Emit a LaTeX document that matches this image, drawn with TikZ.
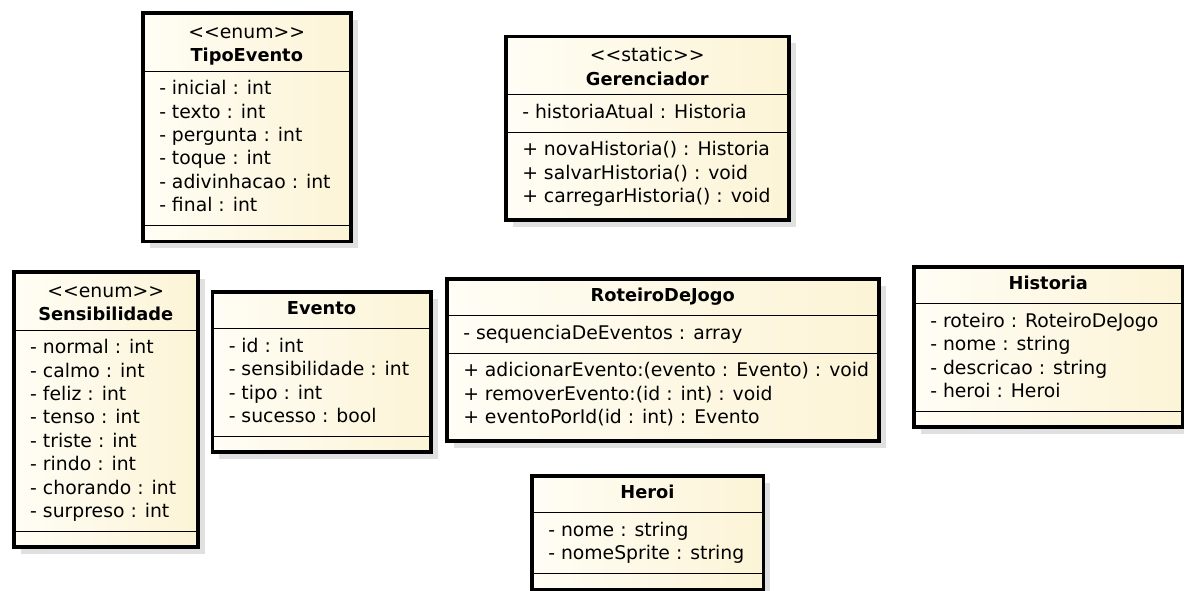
\documentclass[tikz,border=0pt]{standalone}
\usepackage{fontspec}
\setmainfont{DejaVu Sans}
\usepackage{array}
\usetikzlibrary{shadows}

\definecolor{umlpaper}{RGB}{255,253,245}
\definecolor{umlcream}{RGB}{252,244,214}
\definecolor{umlshadow}{RGB}{224,224,224}

\setlength{\tabcolsep}{16.5pt}
\setlength{\arrayrulewidth}{1.2pt}

% compartment paddings
\newcommand{\cpad}{\noalign{\vskip 6.5pt}}
\newcommand{\cpadtop}{\noalign{\vskip 9pt}}
\newcommand{\cpadsmall}{\noalign{\vskip 2pt}}
\newcommand{\cpadlast}{\noalign{\vskip 10.5pt}}
\newcommand{\cend}{\noalign{\vskip 15pt}}
\newcommand{\stereo}[1]{\multicolumn{1}{c}{<\kern0pt<#1>\kern0pt>}}
\newcommand{\cname}[1]{\multicolumn{1}{c}{\fontsize{17.8}{23.4}\selectfont\textbf{#1}}}

\begin{document}
\begin{tikzpicture}[
    x=1pt, y=-1pt,
    every node/.style={font=\fontsize{18.8}{23.4}\selectfont},
    classbox/.style={draw, rectangle, line width=3.5pt, inner sep=0pt, anchor=north west,
        left color=umlpaper, right color=umlcream,
        drop shadow={shadow xshift=7pt, shadow yshift=-7pt, fill=umlshadow, opacity=1}}
]
    \useasboundingbox (0,0) rectangle (1184,590);

    % --------------------------------------------------------
    % 1. ENUMS AND STATIC CLASS
    % --------------------------------------------------------

    % TipoEvento enum
    \node (tipoevento) [classbox] at (141, 11) {
        \begin{tabular}{w{l}{175pt}}
        \cpadtop
        \stereo{enum} \\
        \cname{TipoEvento} \\
        \cpadsmall\hline\cpad
        - inicial : int \\
        - texto : int \\
        - pergunta : int \\
        - toque : int \\
        - adivinhacao : int \\
        - final : int \\
        \cpad\hline\cend
        \end{tabular}
    };

    % Gerenciador static class
    \node (gerenciador) [classbox] at (504, 34.5) {
        \begin{tabular}{w{l}{250pt}}
        \cpadtop
        \stereo{static} \\
        \cname{Gerenciador} \\
        \cpadsmall\hline\cpad
        - historiaAtual : Historia \\
        \cpad\hline\cpad
        + novaHistoria() : Historia \\
        + salvarHistoria() : void \\
        + carregarHistoria() : void \\
        \cpadlast
        \end{tabular}
    };

    % Sensibilidade enum
    \node (sensibilidade) [classbox] at (12, 270) {
        \begin{tabular}{w{l}{151pt}}
        \cpadtop
        \stereo{enum} \\
        \cname{Sensibilidade} \\
        \cpadsmall\hline\cpad
        - normal : int \\
        - calmo : int \\
        - feliz : int \\
        - tenso : int \\
        - triste : int \\
        - rindo : int \\
        - chorando : int \\
        - surpreso : int \\
        \cpad\hline\cend
        \end{tabular}
    };

    % --------------------------------------------------------
    % 2. GAME CLASSES
    % --------------------------------------------------------

    % Evento class
    \node (evento) [classbox] at (210.5, 290) {
        \begin{tabular}{w{l}{185.5pt}}
        \cpad
        \cname{Evento} \\
        \cpad\hline\cpad
        - id : int \\
        - sensibilidade : int \\
        - tipo : int \\
        - sucesso : bool \\
        \cpad\hline\cend
        \end{tabular}
    };

    % RoteiroDeJogo class
    \node (roteiro) [classbox] at (445, 277) {
        \begin{tabular}{w{l}{399pt}}
        \cpad
        \cname{RoteiroDeJogo} \\
        \cpad\hline\cpad
        - sequenciaDeEventos : array \\
        \cpad\hline\cpad
        + adicionarEvento:(evento : Evento) : void \\
        + removerEvento:(id : int) : void \\
        + eventoPorId(id : int) : Evento \\
        \cpadlast
        \end{tabular}
    };

    % Historia class
    \node (historia) [classbox] at (912, 265) {
        \begin{tabular}{w{l}{236pt}}
        \cpad
        \cname{Historia} \\
        \cpad\hline\cpad
        - roteiro : RoteiroDeJogo \\
        - nome : string \\
        - descricao : string \\
        - heroi : Heroi \\
        \cpad\hline\cend
        \end{tabular}
    };

    % Heroi class
    \node (heroi) [classbox] at (530, 474) {
        \begin{tabular}{w{l}{198.5pt}}
        \cpad
        \cname{Heroi} \\
        \cpad\hline\cpad
        - nome : string \\
        - nomeSprite : string \\
        \cpad\hline\cend
        \end{tabular}
    };

\end{tikzpicture}
\end{document}
